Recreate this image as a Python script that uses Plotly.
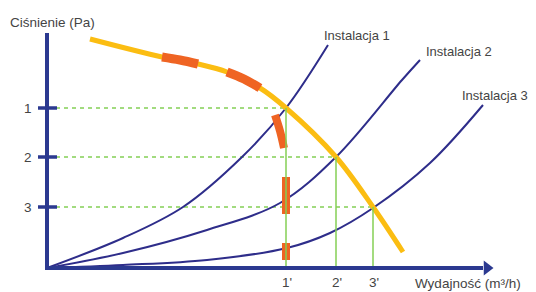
import plotly.graph_objects as go

# ---- data (schematic units: Q = flow, P = pressure) ----
fan_q = [43, 115, 151, 180, 213, 239, 289, 326, 356]
fan_p = [229, 211, 204, 196, 180, 160, 111, 61, 16]

sys1_q = [0, 76, 136, 195, 239, 281]
sys1_p = [0, 30, 61, 111, 160, 223]
sys2_q = [0, 76, 160, 233, 289, 355, 373]
sys2_p = [0, 15, 38, 65, 111, 188, 208]
sys3_q = [0, 76, 160, 240, 283, 326, 383, 436]
sys3_p = [0, 3, 8, 20, 35, 60, 105, 163]

op_q = [239, 289, 326]          # operating points 1', 2', 3'
op_p = [160, 111, 61]           # pressures 1, 2, 3
p_labels = ["1", "2", "3"]
q_labels = ["1'", "2'", "3'"]
curve_names = ["Instalacja 1", "Instalacja 2", "Instalacja 3"]
curve_label_q = [310, 412, 448]
curve_label_p = [233, 217, 173]

orange_seg_q = [[115, 133, 151], [180, 197, 213], [228, 233, 237], [239, 239], [239, 239]]
orange_seg_p = [[211, 208, 204], [196, 189, 180], [153, 137, 120], [91, 54], [25, 8]]

axis_q_end = 436
axis_p_end = 235

NAVY = "#2b3990"
CURVE = "#2e2d8a"
YELLOW = "#fbbd12"
ORANGE = "#ef6423"
GREEN = "#84cf55"
TXT = "#444444"

fig = go.Figure()

# green guide lines
for q, p in zip(op_q, op_p):
    fig.add_trace(go.Scatter(x=[9, q], y=[p, p], mode="lines",
                             line=dict(color=GREEN, width=1.5, dash="4px,4px"), hoverinfo="skip"))

# system curves
for qs, ps in [(sys1_q, sys1_p), (sys2_q, sys2_p), (sys3_q, sys3_p)]:
    fig.add_trace(go.Scatter(x=qs, y=ps, mode="lines", line=dict(color=CURVE, width=2, shape="spline", smoothing=1.0),
                             hoverinfo="skip"))

# fan curve
fig.add_trace(go.Scatter(x=fan_q, y=fan_p, mode="lines", line=dict(color=YELLOW, width=5, shape="spline", smoothing=1.0),
                         hoverinfo="skip"))

# orange segments
for i, (qs, ps) in enumerate(zip(orange_seg_q, orange_seg_p)):
    fig.add_trace(go.Scatter(x=qs, y=ps, mode="lines",
                             line=dict(color=ORANGE, width=9 if i < 2 else 8, shape="spline"), hoverinfo="skip"))

for q, p in zip(op_q, op_p):
    fig.add_trace(go.Scatter(x=[q, q], y=[0, p], mode="lines",
                             line=dict(color=GREEN, width=1.5), hoverinfo="skip"))

# axes
fig.add_trace(go.Scatter(x=[0, 0], y=[0, axis_p_end], mode="lines", line=dict(color=NAVY, width=4), hoverinfo="skip"))
fig.add_trace(go.Scatter(x=[-2, axis_q_end], y=[0, 0], mode="lines", line=dict(color=NAVY, width=4), hoverinfo="skip"))
fig.add_trace(go.Scatter(x=[axis_q_end + 4], y=[0], mode="markers",
                         marker=dict(symbol="triangle-right", size=13, color=NAVY), hoverinfo="skip"))
for p in op_p:
    fig.add_trace(go.Scatter(x=[-9, 10], y=[p, p], mode="lines", line=dict(color=NAVY, width=3.5), hoverinfo="skip"))

font = dict(family="Liberation Sans, Arial, sans-serif", size=13.5, color=TXT)
font_c = dict(family="Liberation Sans, Arial, sans-serif", size=13, color=TXT)
ann = []
ann.append(dict(x=5, y=246, text="Ciśnienie (Pa)", showarrow=False, font=font))
for p, t in zip(op_p, p_labels):
    ann.append(dict(x=-19, y=p, text=t, showarrow=False, font=font))
for q, t in zip(op_q, q_labels):
    ann.append(dict(x=q + 1, y=-14, text=t, showarrow=False, font=font))
ann.append(dict(x=421, y=-15, text="Wydajność (m³/h)", showarrow=False, font=font))
for q, p, t in zip(curve_label_q, curve_label_p, curve_names):
    ann.append(dict(x=q, y=p, text=t, showarrow=False, font=font_c))

# the page body has an 8px margin: size the figure so it fills the 536x292 window exactly
fig.update_layout(
    width=528, height=284, margin=dict(l=0, r=0, t=0, b=0),
    paper_bgcolor="white", plot_bgcolor="white", showlegend=False,
    xaxis=dict(range=[-39, 489], visible=False, fixedrange=True),
    yaxis=dict(range=[-24, 260], visible=False, fixedrange=True),
    annotations=ann,
)

fig.write_html("out.html", config={"displayModeBar": False})
